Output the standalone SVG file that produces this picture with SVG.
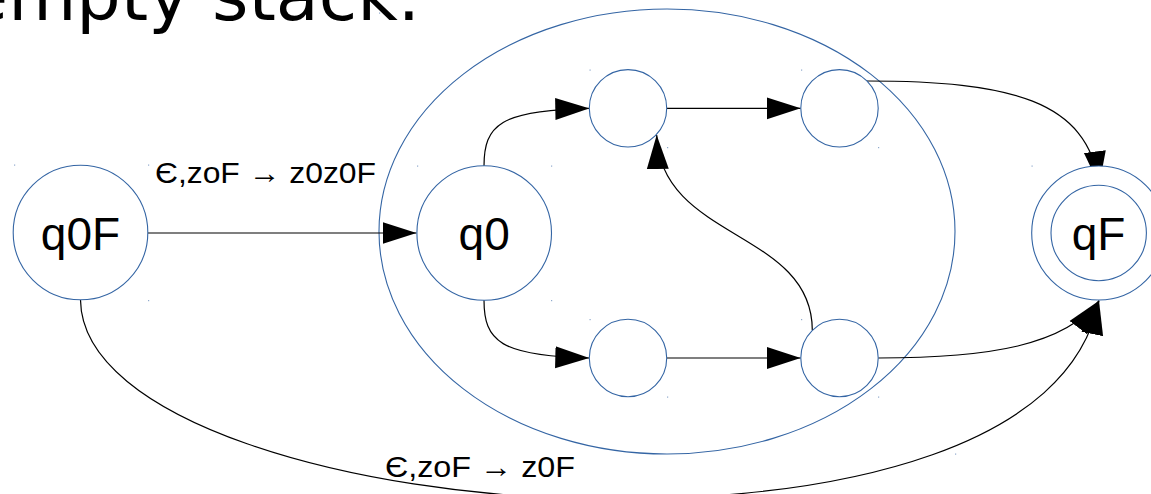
<svg xmlns="http://www.w3.org/2000/svg" width="1151" height="494" viewBox="0 0 1151 494">
  <defs>
    <style>
      .state { fill: #ffffff; stroke: #3465a4; stroke-width: 1.1; }
      .group { fill: none; stroke: #3465a4; stroke-width: 1.1; }
      .edge { fill: none; stroke: #000000; stroke-width: 1.2; }
      .name { font-family: "Liberation Sans", Arial, sans-serif; font-size: 46px; fill: #000000; text-anchor: middle; }
      .label { font-family: "Liberation Sans", Arial, sans-serif; font-size: 30px; fill: #000000; }
      .title { font-family: "DejaVu Sans", "Liberation Sans", sans-serif; font-size: 70px; fill: #000000; }
      .handle { fill: #3465a4; opacity: 0.55; }
    </style>
    <marker id="arrow" markerUnits="userSpaceOnUse" markerWidth="34" markerHeight="24" viewBox="0 0 34 24" refX="34" refY="12" orient="auto">
      <path d="M0,1 L34,12 L0,23 Z" fill="#000000"/>
    </marker>
  </defs>

  <rect width="1151" height="494" fill="#ffffff"/>

  <!-- heading, partly above the visible area -->
  <text class="title" x="420" y="20" text-anchor="end">empty stack.</text>

  <!-- enclosing region around the inner automaton -->
  <g id="region">
    <ellipse class="group" cx="667" cy="231.5" rx="288" ry="222.5"/>
  </g>

  <!-- transitions -->
  <g id="connectors">
    <path class="edge" d="M148,233 L416.5,233" marker-end="url(#arrow)"/>
    <path class="edge" d="M484,166 C484,125 500,110 589.3,108.3" marker-end="url(#arrow)"/>
    <path class="edge" d="M484,300 C484,341 500,356 589.3,358" marker-end="url(#arrow)"/>
    <path class="edge" d="M666.7,108.3 L800.7,108.3" marker-end="url(#arrow)"/>
    <path class="edge" d="M666.7,358 L800.7,358" marker-end="url(#arrow)"/>
    <path class="edge" d="M812.3,330 C812,230 660,240 656.7,135" marker-end="url(#arrow)"/>
    <path class="edge" d="M866.7,81 C1010,81 1088,100 1099.3,185.3" marker-end="url(#arrow)"/>
    <path class="edge" d="M878.2,358 C990,358 1065,345 1099,300.7" marker-end="url(#arrow)"/>
    <path class="edge" d="M80.5,300 C82,420 350,497 600,499 C850,501 1070,445 1099,300.7" marker-end="url(#arrow)"/>
    <text class="label" x="155" y="183.3" textLength="221" lengthAdjust="spacingAndGlyphs">Є,zoF → z0z0F</text>
    <text class="label" x="385" y="477.3" textLength="190" lengthAdjust="spacingAndGlyphs">Є,zoF → z0F</text>
  </g>

  <g id="q0F">
    <circle class="state" cx="80.5" cy="232.5" r="67.3"/>
    <text class="name" x="80.5" y="250">q0F</text>
  </g>

  <g id="q0">
    <circle class="state" cx="484.2" cy="233" r="67.3"/>
    <text class="name" x="484.2" y="250">q0</text>
  </g>

  <g id="s1">
    <circle class="state" cx="628" cy="108.3" r="38.7"/>
  </g>

  <g id="s2">
    <circle class="state" cx="839.5" cy="108.3" r="38.7"/>
  </g>

  <g id="s3">
    <circle class="state" cx="628" cy="358" r="38.7"/>
  </g>

  <g id="s4">
    <circle class="state" cx="839.5" cy="358" r="38.7"/>
  </g>

  <g id="qF">
    <circle class="state" cx="1098.7" cy="233" r="67"/>
    <circle class="state" cx="1098.7" cy="233" r="47.7"/>
    <text class="name" x="1098.5" y="250">qF</text>
  </g>

  <!-- bounding-box corner handles -->
  <g id="handles">
    <rect class="handle" x="14" y="164.5" width="1.2" height="1.2"/>
    <rect class="handle" x="148" y="164.5" width="1.2" height="1.2"/>
    <rect class="handle" x="148" y="300" width="1.2" height="1.2"/>
    <rect class="handle" x="417" y="165.5" width="1.2" height="1.2"/>
    <rect class="handle" x="551" y="165.5" width="1.2" height="1.2"/>
    <rect class="handle" x="551" y="300" width="1.2" height="1.2"/>
    <rect class="handle" x="589.5" y="69.5" width="1.2" height="1.2"/>
    <rect class="handle" x="667" y="147" width="1.2" height="1.2"/>
    <rect class="handle" x="801" y="69.5" width="1.2" height="1.2"/>
    <rect class="handle" x="878" y="147" width="1.2" height="1.2"/>
    <rect class="handle" x="589.5" y="319" width="1.2" height="1.2"/>
    <rect class="handle" x="667" y="396.5" width="1.2" height="1.2"/>
    <rect class="handle" x="801" y="319" width="1.2" height="1.2"/>
    <rect class="handle" x="878" y="396.5" width="1.2" height="1.2"/>
    <rect class="handle" x="1031.5" y="165.5" width="1.2" height="1.2"/>
    <rect class="handle" x="379" y="12.5" width="1.2" height="1.2"/>
    <rect class="handle" x="955" y="453.5" width="1.2" height="1.2"/>
  </g>
</svg>
